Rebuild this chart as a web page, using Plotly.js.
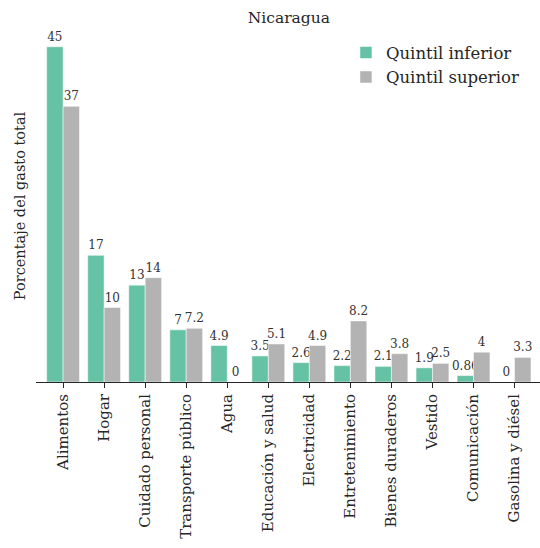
<!DOCTYPE html>
<html>
<head>
<meta charset="utf-8">
<script src="https://cdn.plot.ly/plotly-3.0.1.min.js"></script>
<style>html,body{margin:0;padding:0;background:#fff;}#chart{width:540px;height:548px;}</style>
</head>
<body>
<div id="chart"></div>
<script>
const categories = ["Alimentos", "Hogar", "Cuidado personal", "Transporte público", "Agua", "Educación y salud", "Electricidad", "Entretenimiento", "Bienes duraderos", "Vestido", "Comunicación", "Gasolina y diésel"];
const quintilInferior = [45, 17, 13, 7, 4.9, 3.5, 2.6, 2.2, 2.1, 1.9, 0.86, 0];
const quintilSuperior = [37, 10, 14, 7.2, 0, 5.1, 4.9, 8.2, 3.8, 2.5, 4, 3.3];
const seriesNames = ["Quintil inferior", "Quintil superior"];

const FONT = "DejaVu Serif, serif";
const idx = categories.map((_, i) => i);

function trace(name, vals, color, grp) {
  const tf = {family: FONT, size: 12, color: "#333333"};
  return {
    type: "bar",
    name: name,
    legendgroup: grp,
    x: idx,
    y: vals,
    marker: {color: color, line: {color: "#ffffff", width: 0.5}},
    texttemplate: "%{y:~.2g}",
    textposition: "outside",
    textfont: tf,
    outsidetextfont: tf,
    constraintext: "none",
    cliponaxis: false,
    hoverinfo: "skip"
  };
}

const data = [
  trace(seriesNames[0], quintilInferior, "#66c2a5", "a"),
  trace(seriesNames[1], quintilSuperior, "#b3b3b3", "b")
];

const layout = {
  width: 540,
  height: 548,
  margin: {l: 36, r: 0, t: 30, b: 166},
  paper_bgcolor: "#ffffff",
  plot_bgcolor: "#ffffff",
  font: {family: FONT, color: "#262626", size: 14},
  barmode: "group",
  bargap: 0.2,
  bargroupgap: 0,
  title: {text: "Nicaragua", x: 0.535, xanchor: "center", y: 0.978, yanchor: "top", font: {family: FONT, size: 15.5, color: "#262626"}},
  xaxis: {
    range: [-0.66, 11.62],
    tickmode: "array",
    tickvals: idx,
    ticktext: categories,
    tickangle: -90,
    ticks: "outside",
    ticklen: 5,
    tickcolor: "#262626",
    showline: true,
    linecolor: "#262626",
    linewidth: 1,
    showgrid: false,
    zeroline: false,
    tickfont: {family: FONT, size: 15, color: "#262626"}
  },
  yaxis: {
    range: [0, 47.25],
    showticklabels: false,
    ticks: "",
    showgrid: false,
    zeroline: false,
    showline: false,
    title: {text: "Porcentaje del gasto total", standoff: 5, font: {family: FONT, size: 14.5, color: "#262626"}}
  },
  showlegend: true,
  legend: {
    x: 0.615, xanchor: "left",
    y: 0.985, yanchor: "top",
    bgcolor: "rgba(255,255,255,0)",
    font: {family: FONT, size: 16.5, color: "#262626"},
    tracegroupgap: 0
  }
};

Plotly.newPlot("chart", data, layout, {displayModeBar: false, staticPlot: true});
</script>
</body>
</html>
